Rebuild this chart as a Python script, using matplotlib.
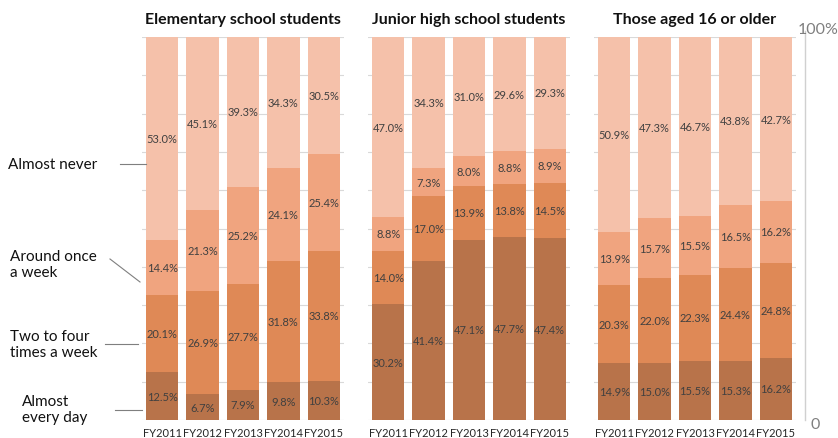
import matplotlib
matplotlib.use("Agg")
import matplotlib.pyplot as plt
from matplotlib.lines import Line2D

plt.rcParams['font.family'] = ['Lato', 'DejaVu Sans']

years = ["FY2011", "FY2012", "FY2013", "FY2014", "FY2015"]
groups = ["Elementary school students", "Junior high school students", "Those aged 16 or older"]

# shares (%) per group, bottom to top
every_day = [[12.5, 6.7, 7.9, 9.8, 10.3],
             [30.2, 41.4, 47.1, 47.7, 47.4],
             [14.9, 15.0, 15.5, 15.3, 16.2]]
two_to_four = [[20.1, 26.9, 27.7, 31.8, 33.8],
               [14.0, 17.0, 13.9, 13.8, 14.5],
               [20.3, 22.0, 22.3, 24.4, 24.8]]
once_week = [[14.4, 21.3, 25.2, 24.1, 25.4],
             [8.8, 7.3, 8.0, 8.8, 8.9],
             [13.9, 15.7, 15.5, 16.5, 16.2]]
almost_never = [[53.0, 45.1, 39.3, 34.3, 30.5],
                [47.0, 34.3, 31.0, 29.6, 29.3],
                [50.9, 47.3, 46.7, 43.8, 42.7]]

colors = ["#B8734A", "#DF8956", "#F0A47F", "#F5C1AA"]

fig = plt.figure(figsize=(8.38, 4.39), dpi=100)
lefts = [142, 368, 594]
bottom = 1 - 421 / 439
height = (421 - 38) / 439

for g in range(3):
    ax = fig.add_axes([lefts[g] / 838, bottom, 202 / 838, height])
    x = range(len(years))
    base = [0] * 5
    for series, col in zip([every_day[g], two_to_four[g], once_week[g], almost_never[g]], colors):
        ax.bar(x, series, bottom=base, width=0.8, color=col, zorder=2)
        for i, v in enumerate(series):
            ax.text(i, base[i] + v / 2, f"{v:.1f}%", ha='center', va='center',
                    fontsize=8, color='#404040', zorder=3)
        base = [b + v for b, v in zip(base, series)]
    ax.set_xlim(-0.5, 4.5)
    ax.set_ylim(0, 100)
    ax.set_yticks(range(0, 101, 10))
    ax.yaxis.grid(True, color='#D9D9D9', linewidth=0.8, zorder=0)
    ax.tick_params(axis='y', left=False, labelleft=False)
    ax.tick_params(axis='x', length=0, labelsize=8, pad=5, colors='#262626')
    ax.set_xticks(list(x))
    ax.set_xticklabels(years)
    for s in ax.spines.values():
        s.set_visible(False)
    ax.set_title(groups[g], fontsize=11.5, fontweight='bold', pad=10, color='#111111')

# right-hand scale
fig.add_artist(Line2D([805 / 838, 805 / 838], [1 - 421 / 439, 1 - 32 / 439], color='#D0D0D0', lw=1))
fig.text(818 / 838, 1 - 30 / 439, "100%", ha='center', va='center', fontsize=11.5, color='#7F7F7F')
fig.text(815 / 838, 1 - 425 / 439, "0", ha='center', va='center', fontsize=11.5, color='#7F7F7F')

# left-hand legend labels with leader lines
labels = [("Almost never", 8, 165), ("Around once\na week", 10, 265),
          ("Two to four\ntimes a week", 10, 345), ("Almost\nevery day", 22, 410)]
for txt, lx, ly in labels:
    fig.text(lx / 838, 1 - ly / 439, txt, ha='left', va='center', fontsize=11,
             color='#111111', linespacing=1.2)
leaders = [((120, 165), (146, 165)), ((110, 260), (140, 283)),
           ((105, 345), (138, 345)), ((115, 411), (142, 411))]
for (x0, y0), (x1, y1) in leaders:
    fig.add_artist(Line2D([x0 / 838, x1 / 838], [1 - y0 / 439, 1 - y1 / 439], color='#7F7F7F', lw=0.8))

fig.savefig("out.png", dpi=100)
